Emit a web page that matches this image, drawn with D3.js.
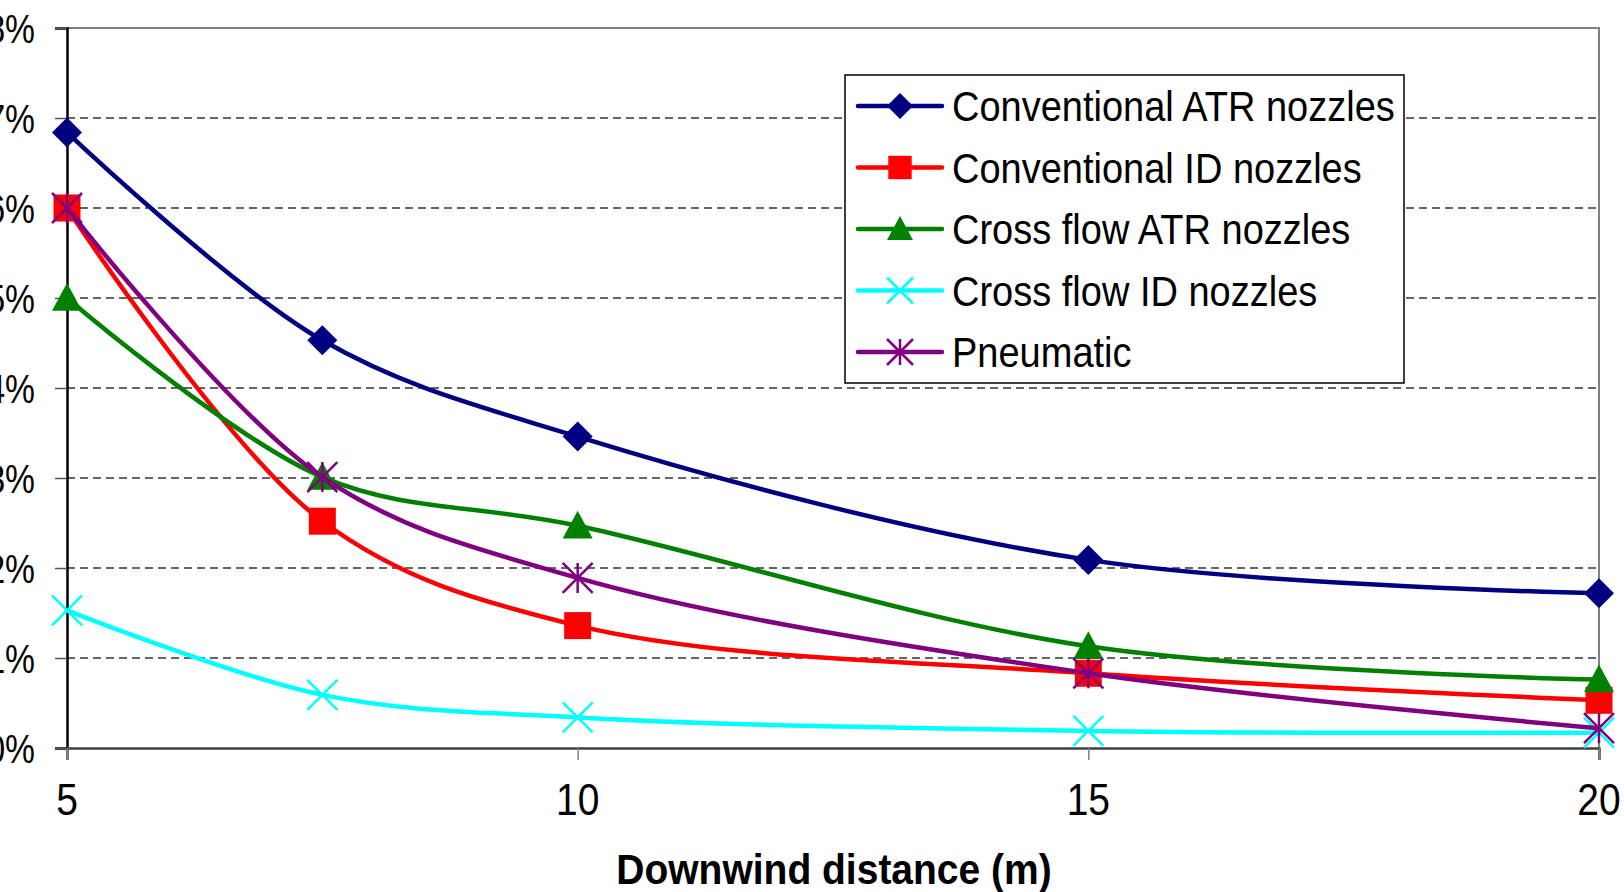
<!DOCTYPE html>
<html>
<head>
<meta charset="utf-8">
<script src="https://cdn.jsdelivr.net/npm/d3@7/dist/d3.min.js"></script>
<style>
  body { margin: 0; background: #fff; overflow: hidden; }
  text { font-family: "Liberation Sans", Arial, sans-serif; fill: #000; }
</style>
</head>
<body>
<div id="vis"></div>
<script>
// downwind distances (m) where the samples were taken
var distances = [5, 7.5, 10, 15, 20];

// series names, in drawing order
var seriesNames = ["Conventional ATR nozzles", "Conventional ID nozzles",
  "Cross flow ATR nozzles", "Cross flow ID nozzles", "Pneumatic"];

// drift values (%) per series
var convATR = [6.84, 4.53, 3.46, 2.09, 1.72];
var convID = [6.0, 2.52, 1.36, 0.83, 0.53];
var crossATR = [5.0, 3.01, 2.47, 1.13, 0.76];
var crossID = [1.53, 0.59, 0.34, 0.19, 0.17];
var pneumatic = [6.0, 3.01, 1.89, 0.83, 0.22];

var xTicks = [5, 10, 15, 20];
var yTicks = [0, 1, 2, 3, 4, 5, 6, 7, 8];

var seriesValues = [convATR, convID, crossATR, crossID, pneumatic];
var seriesColors = ["#000080", "#ff0000", "#008000", "#00ffff", "#800080"];
var seriesMarkers = ["diamond", "square", "triangle", "x", "star"];

var W = 1624, H = 892;
var plot = { left: 67, right: 1599, top: 28, bottom: 748 };

var svg = d3.select("#vis").append("svg")
  .attr("width", W)
  .attr("height", H);

var x = d3.scaleLinear().domain([5, 20]).range([plot.left, plot.right]);
var y = d3.scaleLinear().domain([0, 8]).range([plot.bottom, plot.top]);

// text helper: the original font is a bit taller / narrower than Arial
function addText(sel, tx, ty, str, size, sx, sy, anchor) {
  return sel.append("text")
    .attr("transform", "translate(" + tx + "," + ty + ") scale(" + sx + "," + sy + ")")
    .attr("text-anchor", anchor || "start")
    .attr("font-size", size)
    .text(str);
}

// dashed gridlines (the top one is the solid plot border)
svg.append("g").selectAll("line")
  .data(yTicks.filter(function(d) { return d > 0 && d < 8; }))
  .enter().append("line")
  .attr("x1", plot.left).attr("x2", plot.right)
  .attr("y1", function(d) { return y(d); })
  .attr("y2", function(d) { return y(d); })
  .attr("stroke", "#333")
  .attr("stroke-width", 1.3)
  .attr("stroke-dasharray", "8,5");

// plot border, top and right
svg.append("path")
  .attr("d", "M" + plot.left + "," + y(8) + "H" + plot.right + "V" + plot.bottom)
  .attr("fill", "none")
  .attr("stroke", "#808080")
  .attr("stroke-width", 2);

// y axis (labels drawn separately)
var gy = svg.append("g")
  .attr("transform", "translate(" + plot.left + ",0)")
  .call(d3.axisLeft(y).tickValues(yTicks).tickSize(12).tickFormat(""));
gy.select(".domain").attr("stroke", "#000").attr("stroke-width", 2.5);
gy.selectAll(".tick line").attr("stroke", "#555").attr("stroke-width", 1.5);

var yLabels = svg.append("g");
yTicks.forEach(function(d) {
  addText(yLabels, 35, y(d) + 15, d + "%", 41, 0.82, 1, "end");
});

// x axis
var gx = svg.append("g")
  .attr("transform", "translate(0," + plot.bottom + ")")
  .call(d3.axisBottom(x).tickValues(xTicks).tickSize(12).tickFormat(""));
gx.select(".domain").attr("stroke", "#404040").attr("stroke-width", 2.5);
gx.selectAll(".tick line").attr("stroke", "#808080").attr("stroke-width", 1.5);

var xLabels = svg.append("g");
xTicks.forEach(function(d) {
  addText(xLabels, x(d), 815, d3.format("d")(d), 39, 1, 1.12, "middle");
});

// x axis title
addText(svg, 834, 884, "Downwind distance (m)", 39, 1, 1.08, "middle")
  .attr("font-weight", "bold");

// marker drawing helper
function drawMarker(sel, type, color, s) {
  var h = s / 2;
  if (type === "diamond") {
    sel.append("path")
      .attr("d", "M0," + (-h) + "L" + h + ",0L0," + h + "L" + (-h) + ",0Z")
      .attr("fill", color);
  } else if (type === "square") {
    var q = s * 0.45;
    sel.append("rect")
      .attr("x", -q).attr("y", -q)
      .attr("width", 2 * q).attr("height", 2 * q)
      .attr("fill", color);
  } else if (type === "triangle") {
    sel.append("path")
      .attr("d", "M0," + (-h) + "L" + h + "," + (h * 0.85) + "L" + (-h) + "," + (h * 0.85) + "Z")
      .attr("fill", color);
  } else if (type === "x") {
    sel.append("path")
      .attr("d", "M" + (-h) + "," + (-h) + "L" + h + "," + h + "M" + (-h) + "," + h + "L" + h + "," + (-h))
      .attr("stroke", color).attr("stroke-width", 2.5);
  } else if (type === "star") {
    sel.append("path")
      .attr("d", "M" + (-h) + "," + (-h) + "L" + h + "," + h + "M" + (-h) + "," + h + "L" + h + "," + (-h) +
        "M0," + (-h) + "L0," + h)
      .attr("stroke", color).attr("stroke-width", 2.5);
  }
}

var line = d3.line()
  .x(function(d) { return x(d[0]); })
  .y(function(d) { return y(d[1]); })
  .curve(d3.curveCatmullRom.alpha(0.5));

// series lines and markers
seriesValues.forEach(function(vals, i) {
  var pts = distances.map(function(d, j) { return [d, vals[j]]; });
  var g = svg.append("g");
  g.append("path")
    .attr("d", line(pts))
    .attr("fill", "none")
    .attr("stroke", seriesColors[i])
    .attr("stroke-width", 4.5)
    .attr("stroke-linejoin", "round");
  pts.forEach(function(p) {
    var m = g.append("g").attr("transform", "translate(" + x(p[0]) + "," + y(p[1]) + ")");
    drawMarker(m, seriesMarkers[i], seriesColors[i], 30);
  });
});

// legend
var legend = svg.append("g");
legend.append("rect")
  .attr("x", 845).attr("y", 75)
  .attr("width", 559).attr("height", 308)
  .attr("fill", "#fff")
  .attr("stroke", "#000")
  .attr("stroke-width", 1.5);

seriesNames.forEach(function(name, i) {
  var ry = 106 + i * 61.5;
  var row = legend.append("g").attr("transform", "translate(0," + ry + ")");
  row.append("line")
    .attr("x1", 858).attr("x2", 942)
    .attr("stroke", seriesColors[i])
    .attr("stroke-width", 4.5)
    .attr("stroke-linecap", "round");
  var m = row.append("g").attr("transform", "translate(900,0)");
  drawMarker(m, seriesMarkers[i], seriesColors[i], 26);
  addText(row, 952, 15, name, 38, 1, 1.1);
});
</script>
</body>
</html>
